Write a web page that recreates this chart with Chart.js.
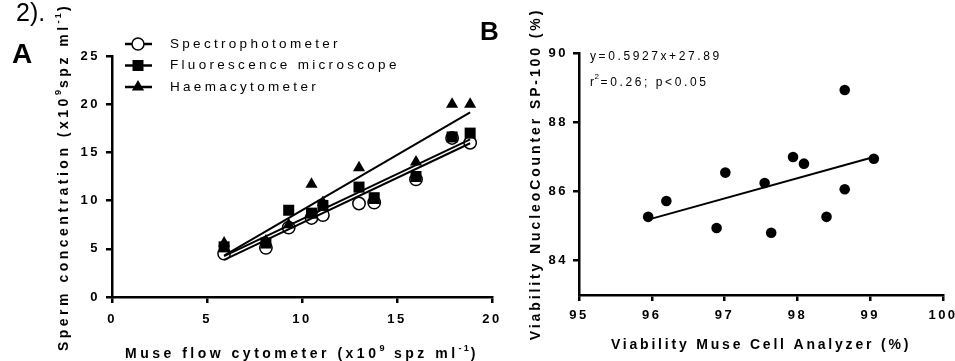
<!DOCTYPE html>
<html>
<head>
<meta charset="utf-8">
<script src="https://cdn.jsdelivr.net/npm/chart.js@4.4.1/dist/chart.umd.min.js"></script>
<style>
    html, body { margin: 0; padding: 0; background: #fff; }
    #wrap { position: relative; width: 955px; height: 361px; overflow: hidden; }
    canvas { position: absolute; top: 0; }
    #chartA { left: 0; }
    #chartB { left: 480px; }
</style>
</head>
<body>
<div id="wrap">
    <canvas id="chartA" width="510" height="361"></canvas>
    <canvas id="chartB" width="475" height="361"></canvas>
</div>
<script>
// Panel A: concentration, Muse vs three other methods
const museX = [5.9, 8.1, 9.3, 10.5, 11.1, 13.0, 13.8, 16.0, 17.9, 18.85];
const spectroY = [4.5, 5.1, 7.2, 8.2, 8.5, 9.7, 9.8, 12.2, 16.5, 16.0];
const fluorY = [5.2, 5.6, 9.0, 8.7, 9.5, 11.4, 10.3, 12.5, 16.6, 17.0];
const haemY = [5.6, 5.8, 7.5, 11.7, 9.8, 13.4, 10.0, 14.0, 20.0, 20.0];

// regression line ends
const fitX = [5.9, 18.85];
const spectroFit = [3.85, 15.95];
const fluorFit = [4.25, 16.35];
const haemFit = [4.3, 19.15];

const ticksAX = [0, 5, 10, 15, 20];
const ticksAY = [0, 5, 10, 15, 20, 25];

// Panel B: viability
const viabMuse = [95.95, 96.2, 96.89, 97.01, 97.55, 97.64, 97.94, 98.09, 98.40, 98.65, 98.65, 99.05];
const viabNucleo = [85.26, 85.72, 84.94, 86.54, 86.24, 84.80, 86.99, 86.80, 85.26, 86.06, 88.93, 86.94];
const viabFitX = [95.95, 99.05];
const viabFitY = [85.18, 86.99];

const ticksBX = [95, 96, 97, 98, 99, 100];
const ticksBY = [84, 86, 88, 90];

const FONT = "'Liberation Sans', Arial, sans-serif";
const toPts = (xs, ys) => xs.map((x, i) => ({ x: x, y: ys[i] }));

// fixed axis sizes so the plot areas land where the figure has them
const fixWidth = w => s => { s.width = w; s.paddingTop = 0; s.paddingBottom = 0; s.paddingLeft = 0; s.paddingRight = 0; };
const fixHeight = h => s => { s.height = h; s.paddingTop = 0; s.paddingBottom = 0; s.paddingLeft = 0; s.paddingRight = 0; };
const setTicks = list => s => { s.ticks = list.map(v => ({ value: v })); };

function axis(min, max, list, fit, pad) {
    return {
        type: 'linear',
        min: min,
        max: max,
        afterBuildTicks: setTicks(list),
        afterFit: fit,
        border: { display: true, color: '#000', width: 2.5 },
        grid: { display: true, drawOnChartArea: false, drawTicks: true, tickLength: 6, color: '#000', lineWidth: 2.5 },
        ticks: { color: '#000', padding: pad, font: { family: FONT, size: 13, weight: 'bold' } }
    };
}

// text with superscripts, centred on (x, y), optionally rotated
function richText(ctx, parts, x, y, angle, size, spacing, weight) {
    ctx.save();
    ctx.translate(x, y);
    ctx.rotate(angle);
    ctx.fillStyle = '#000';
    ctx.textAlign = 'left';
    ctx.textBaseline = 'alphabetic';
    let total = 0;
    parts.forEach(p => {
        const fs = p.sup ? size * 0.65 : size;
        ctx.font = `${weight} ${fs}px ${FONT}`;
        ctx.letterSpacing = (p.sup ? spacing * 0.6 : spacing) + 'px';
        p.w = ctx.measureText(p.t).width;
        total += p.w;
    });
    let cx = -total / 2;
    parts.forEach(p => {
        const fs = p.sup ? size * 0.65 : size;
        ctx.font = `${weight} ${fs}px ${FONT}`;
        ctx.letterSpacing = (p.sup ? spacing * 0.6 : spacing) + 'px';
        ctx.fillText(p.t, cx, p.sup ? -size * 0.5 : 0);
        cx += p.w;
    });
    ctx.restore();
}

function marker(ctx, style, x, y) {
    ctx.save();
    ctx.lineWidth = 1.5;
    ctx.strokeStyle = '#000';
    ctx.fillStyle = '#000';
    ctx.beginPath();
    if (style === 'circle') {
        ctx.fillStyle = '#fff';
        ctx.arc(x, y, 6, 0, Math.PI * 2);
        ctx.fill();
        ctx.stroke();
    } else if (style === 'rect') {
        ctx.rect(x - 5.5, y - 5.5, 11, 11);
        ctx.fill();
    } else {
        ctx.moveTo(x, y - 7);
        ctx.lineTo(x + 6.1, y + 3.5);
        ctx.lineTo(x - 6.1, y + 3.5);
        ctx.closePath();
        ctx.fill();
    }
    ctx.restore();
}

const tickSpacing = {
    id: 'tickSpacing',
    beforeDraw(chart) { chart.ctx.letterSpacing = '2.5px'; }
};

const extrasA = {
    id: 'extrasA',
    afterDraw(chart) {
        const ctx = chart.ctx;
        ctx.save();
        ctx.fillStyle = '#000';
        ctx.letterSpacing = '0px';
        ctx.textAlign = 'left';
        ctx.textBaseline = 'alphabetic';
        ctx.font = `25px ${FONT}`;
        ctx.fillText('2).', 16, 21);
        ctx.font = `bold 28px ${FONT}`;
        ctx.fillText('A', 12, 63);

        // legend
        const rows = [
            { label: 'Spectrophotometer', style: 'circle', y: 44 },
            { label: 'Fluorescence microscope', style: 'rect', y: 65.5 },
            { label: 'Haemacytometer', style: 'triangle', y: 87 }
        ];
        rows.forEach(r => {
            ctx.strokeStyle = '#000';
            ctx.lineWidth = 2.5;
            ctx.beginPath();
            ctx.moveTo(125, r.y);
            ctx.lineTo(152, r.y);
            ctx.stroke();
            marker(ctx, r.style, 138, r.y);
            ctx.fillStyle = '#000';
            ctx.font = `13.5px ${FONT}`;
            ctx.letterSpacing = '3.3px';
            ctx.textBaseline = 'middle';
            ctx.fillText(r.label, 170, r.y);
        });
        ctx.restore();

        richText(ctx, [
            { t: 'Muse flow cytometer (x10' }, { t: '9', sup: true },
            { t: ' spz ml' }, { t: '-1', sup: true }, { t: ')' }
        ], 302, 358, 0, 14, 3.5, 'bold');
        richText(ctx, [
            { t: 'Sperm concentration (x10' }, { t: '9', sup: true },
            { t: 'spz ml' }, { t: '-1', sup: true }, { t: ')' }
        ], 68, 177, -Math.PI / 2, 14, 3.5, 'bold');
    }
};

const extrasB = {
    id: 'extrasB',
    afterDraw(chart) {
        const ctx = chart.ctx;
        ctx.save();
        ctx.fillStyle = '#000';
        ctx.letterSpacing = '0px';
        ctx.textAlign = 'left';
        ctx.textBaseline = 'alphabetic';
        ctx.font = `bold 26px ${FONT}`;
        ctx.fillText('B', 0, 40);
        ctx.restore();

        richText(ctx, [{ t: 'Viability Muse Cell Analyzer (%)' }], 281, 349, 0, 14, 2.8, 'bold');
        richText(ctx, [{ t: 'Viability NucleoCounter SP-100 (%)' }], 60, 174, -Math.PI / 2, 14, 2.9, 'bold');

        // regression annotation, left aligned
        ctx.save();
        ctx.fillStyle = '#000';
        ctx.textAlign = 'left';
        ctx.textBaseline = 'alphabetic';
        ctx.font = `12px ${FONT}`;
        ctx.letterSpacing = '2.6px';
        ctx.fillText('y=0.5927x+27.89', 110, 60);
        ctx.fillText('r', 110, 86);
        const rw = ctx.measureText('r').width;
        ctx.font = `8px ${FONT}`;
        ctx.letterSpacing = '1px';
        ctx.fillText('2', 110 + rw - 2, 79);
        ctx.font = `12px ${FONT}`;
        ctx.letterSpacing = '2.6px';
        ctx.fillText('=0.26; p<0.05', 110 + rw + 4, 86);
        ctx.restore();
    }
};

const lineSet = (xs, ys) => ({
    data: toPts(xs, ys),
    showLine: true,
    borderColor: '#000',
    borderWidth: 2,
    pointRadius: 0,
    order: 0
});

new Chart(document.getElementById('chartA'), {
    type: 'scatter',
    data: {
        datasets: [
            lineSet(fitX, spectroFit),
            lineSet(fitX, fluorFit),
            lineSet(fitX, haemFit),
            {
                label: 'Haemacytometer',
                data: toPts(museX, haemY),
                pointStyle: 'triangle',
                pointRadius: 7,
                backgroundColor: '#000',
                borderColor: '#000',
                borderWidth: 0,
                order: 1
            },
            {
                label: 'Fluorescence microscope',
                data: toPts(museX, fluorY),
                pointStyle: 'rect',
                pointRadius: 7.8,
                backgroundColor: '#000',
                borderColor: '#000',
                borderWidth: 0,
                order: 2
            },
            {
                label: 'Spectrophotometer',
                data: toPts(museX, spectroY),
                pointStyle: 'circle',
                pointRadius: 6.2,
                backgroundColor: '#fff',
                borderColor: '#000',
                borderWidth: 1.5,
                order: 3
            }
        ]
    },
    options: {
        responsive: false,
        animation: false,
        devicePixelRatio: 1,
        layout: { padding: { left: 0, top: 56, right: 18, bottom: 0 } },
        plugins: { legend: { display: false }, tooltip: { enabled: false } },
        scales: {
            x: axis(0, 20, ticksAX, fixHeight(64), 9),
            y: axis(0, 25, ticksAY, fixWidth(112), 6)
        }
    },
    plugins: [tickSpacing, extrasA]
});

new Chart(document.getElementById('chartB'), {
    type: 'scatter',
    data: {
        datasets: [
            lineSet(viabFitX, viabFitY),
            {
                label: 'Viability',
                data: toPts(viabMuse, viabNucleo),
                pointStyle: 'circle',
                pointRadius: 5.3,
                backgroundColor: '#000',
                borderColor: '#000',
                borderWidth: 0,
                order: 1
            }
        ]
    },
    options: {
        responsive: false,
        animation: false,
        devicePixelRatio: 1,
        layout: { padding: { left: 0, top: 53, right: 12, bottom: 0 } },
        plugins: { legend: { display: false }, tooltip: { enabled: false } },
        scales: {
            x: axis(95, 100, ticksBX, fixHeight(66), 7),
            y: axis(83, 90, ticksBY, fixWidth(99), 5)
        }
    },
    plugins: [tickSpacing, extrasB]
});
</script>
</body>
</html>
